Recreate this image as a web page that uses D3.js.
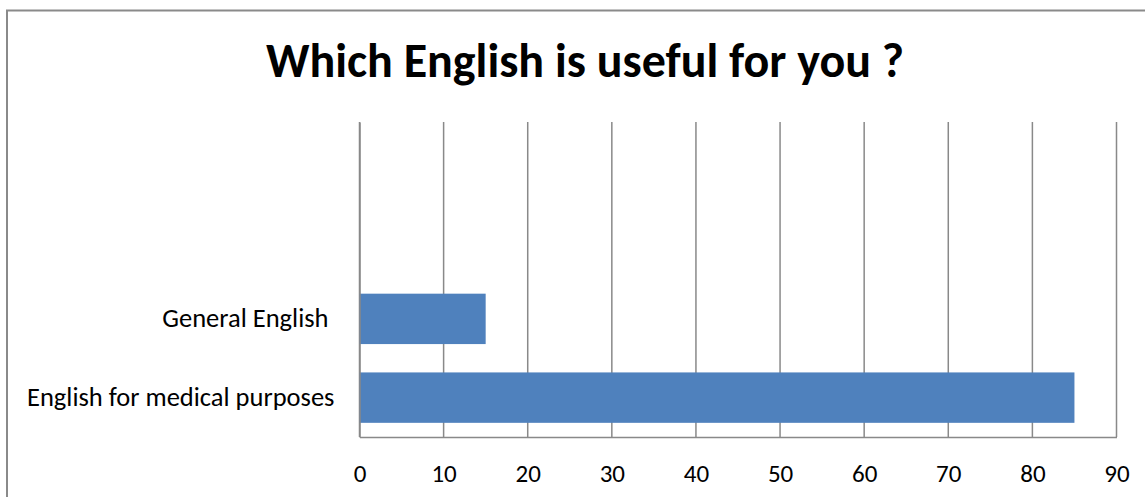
<!DOCTYPE html>
<html>
<head>
<meta charset="utf-8">
<script src="https://cdn.jsdelivr.net/npm/d3@7"></script>
<style>
  html, body { margin: 0; padding: 0; background: #fff; }
  svg { display: block; }
  text { font-family: Carlito, Lato, "Open Sans", sans-serif; fill: #000; white-space: pre; }
</style>
</head>
<body>
<svg id="chart" width="1145" height="497"></svg>
<script>
const title = "Which English is useful for you ?";
const categories = ["", "", "General English ", "English for medical purposes"];
const values = [null, null, 15, 85];
const xTicks = [0, 10, 20, 30, 40, 50, 60, 70, 80, 90];

const W = 1145, H = 497;
const margin = { left: 359.5, right: 1145 - 1116.5, top: 122, bottom: H - 437 };

const svg = d3.select("#chart");

// outer chart border (extends past right/bottom edges)
svg.append("rect")
  .attr("x", 7).attr("y", 10.5)
  .attr("width", W).attr("height", H)
  .attr("fill", "#fff")
  .attr("stroke", "#8a8a8a").attr("stroke-width", 2);

svg.append("text")
  .attr("x", 585).attr("y", 77)
  .attr("text-anchor", "middle")
  .attr("font-weight", "bold")
  .attr("font-size", 48)
  .text(title);

const x = d3.scaleLinear().domain([0, 90]).range([margin.left, W - margin.right]);
const y = d3.scaleBand().domain(d3.range(categories.length))
  .range([margin.top, H - margin.bottom])
  .paddingInner(0.36).paddingOuter(0.18);

// gridlines
svg.append("g").selectAll("line").data(xTicks).join("line")
  .attr("x1", d => x(d)).attr("x2", d => x(d))
  .attr("y1", margin.top).attr("y2", H - margin.bottom)
  .attr("stroke", "#898989").attr("stroke-width", 1.5);

// bars
svg.append("g").selectAll("rect").data(values.map((v, i) => ({ v, i })).filter(d => d.v != null)).join("rect")
  .attr("x", x(0))
  .attr("y", d => y(d.i))
  .attr("width", d => x(d.v) - x(0))
  .attr("height", y.bandwidth())
  .attr("fill", "#4f81bd");

// bottom axis
const xAxis = d3.axisBottom(x).tickValues(xTicks).tickSize(0).tickPadding(27);
const gx = svg.append("g").attr("transform", `translate(0,${H - margin.bottom})`).call(xAxis);
gx.select(".domain").attr("stroke", "#898989").attr("stroke-width", 1.5);
gx.selectAll("text").attr("font-size", 25).attr("font-family", null);

// left axis (category labels)
const yAxis = d3.axisLeft(y).tickFormat(i => categories[i]).tickSize(0).tickPadding(25);
const gy = svg.append("g").attr("transform", `translate(${margin.left},0)`).call(yAxis);
gy.select(".domain").attr("stroke", "#898989").attr("stroke-width", 1.5);
gy.selectAll("text").attr("font-size", 26.5).attr("font-family", null);
</script>
</body>
</html>
